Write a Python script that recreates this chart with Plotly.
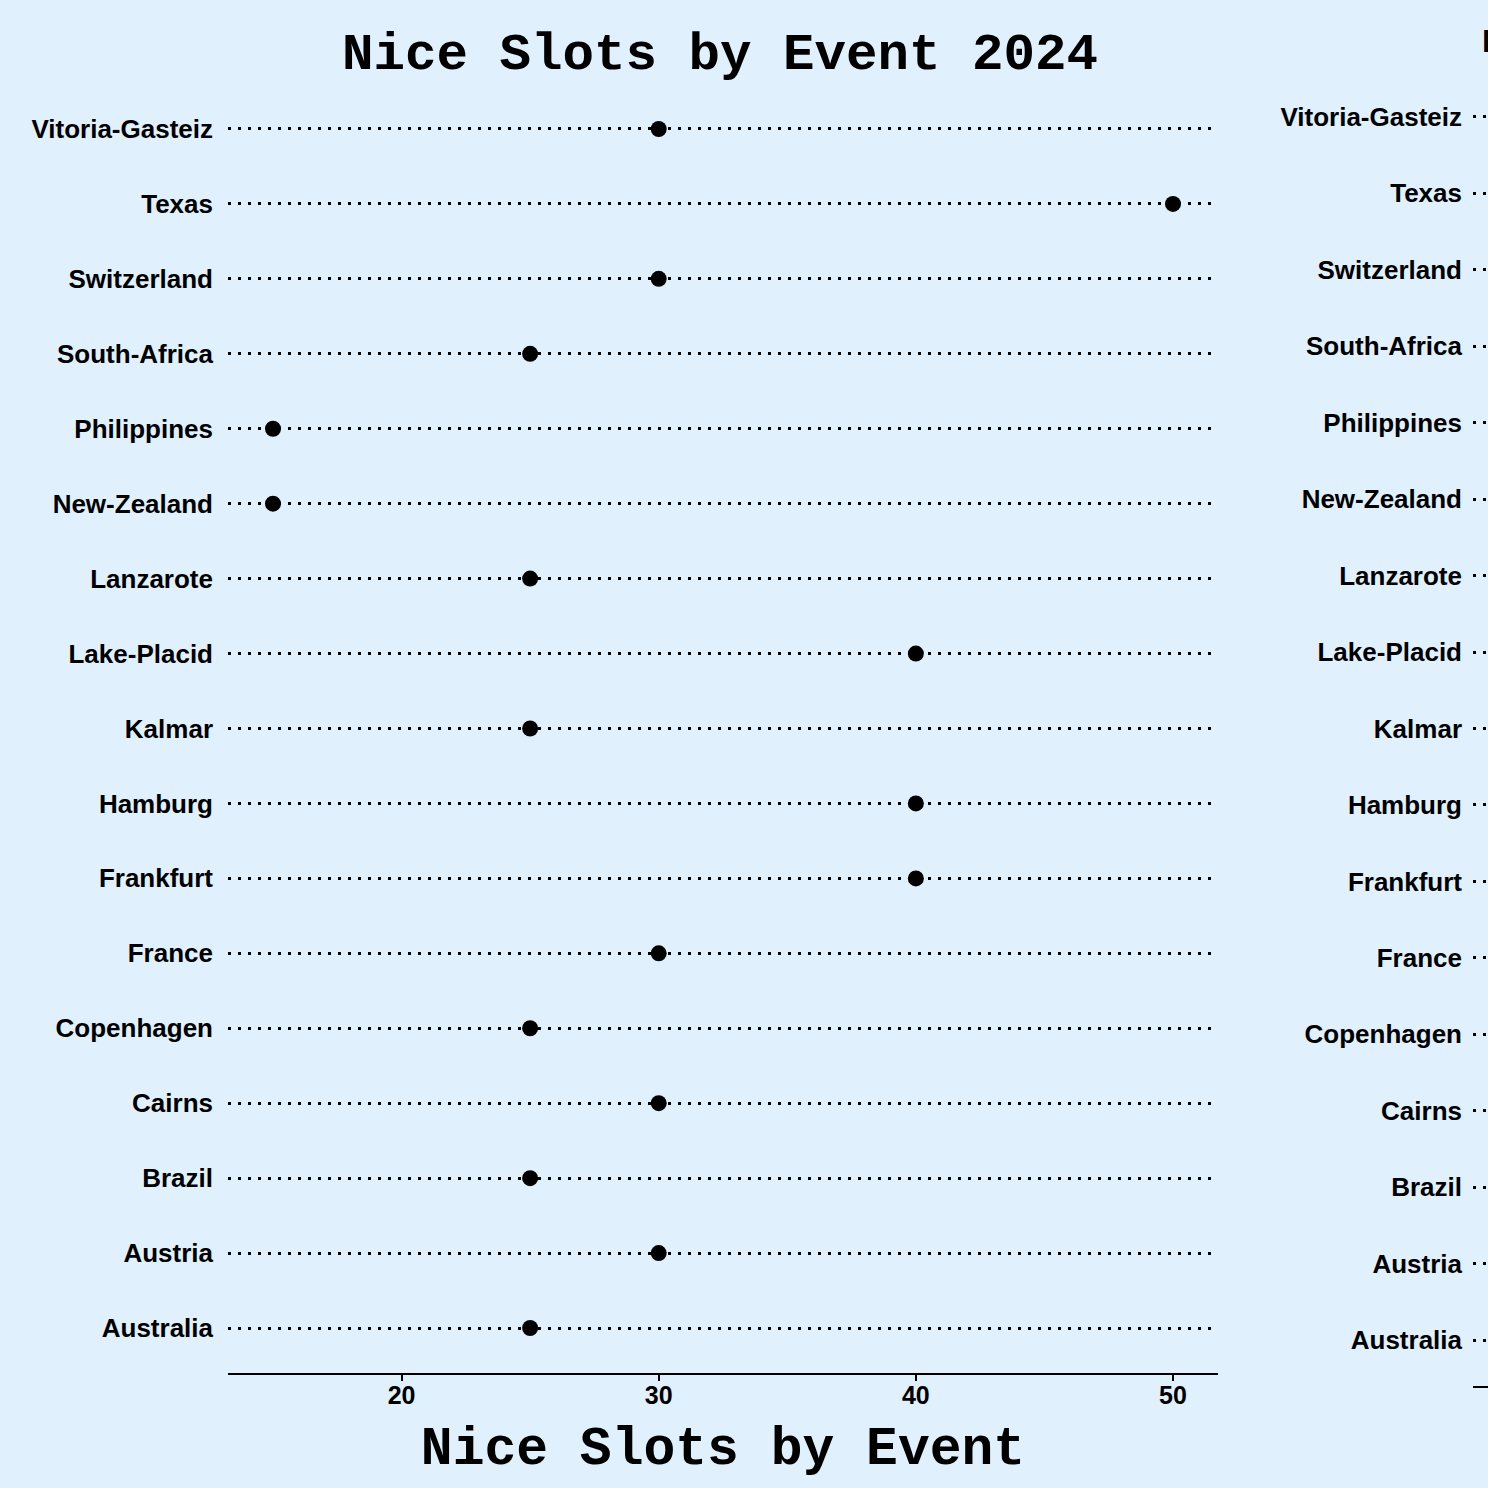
import plotly.graph_objects as go

# events, bottom to top as drawn on the y axis
events = ["Australia", "Austria", "Brazil", "Cairns", "Copenhagen", "France",
          "Frankfurt", "Hamburg", "Kalmar", "Lake-Placid", "Lanzarote",
          "New-Zealand", "Philippines", "South-Africa", "Switzerland", "Texas",
          "Vitoria-Gasteiz"]
slots_2024 = [25, 30, 25, 30, 25, 30, 40, 40, 25, 40, 25, 15, 15, 25, 30, 50, 30]

title_2024 = "Nice Slots by Event 2024"
x_title = "Nice Slots by Event"
title_next = "Nice Slots by Event"

W = H = 1488
bg = "#e0f0fd"
label_font = dict(family="Liberation Sans", size=26, color="black", weight="bold")
tick_font = dict(family="Liberation Sans", size=25, color="black", weight="bold")
mono = "Liberation Mono"

# matplotlib-like 5% margins on the x data range
lo, hi = min(slots_2024), max(slots_2024)
pad = (hi - lo) * 0.05
x_range = [lo - pad, hi + pad]

def px_x(a, b):
    return [a / W, b / W]

def px_y(top, bottom):
    return [1 - bottom / H, 1 - top / H]

fig = go.Figure()

fig.add_trace(go.Scatter(
    x=slots_2024, y=events, mode="markers",
    marker=dict(color="black", size=16),
    xaxis="x", yaxis="y", showlegend=False, hoverinfo="x+y",
))

# second panel (cut off by the page edge): only its labels and rows show
fig.add_trace(go.Scatter(
    x=[None] * len(events), y=events, mode="markers",
    marker=dict(color="black", size=16),
    xaxis="x2", yaxis="y2", showlegend=False, hoverinfo="skip",
))

fig.update_layout(
    width=W, height=H,
    margin=dict(l=0, r=0, t=0, b=0),
    paper_bgcolor=bg, plot_bgcolor=bg,
    showlegend=False,
    title=dict(text=title_2024, x=720 / W, xanchor="center",
               y=1 - 51 / H, yanchor="middle",
               font=dict(family=mono, size=52.5, color="black", weight="bold")),
    xaxis=dict(domain=px_x(228, 1218), anchor="y", range=x_range,
               showgrid=False, zeroline=False,
               showline=True, linecolor="black", linewidth=2,
               ticks="outside", ticklen=6, tickwidth=2, tickcolor="black",
               dtick=10, tickfont=tick_font, ticklabelstandoff=-7,
               title=dict(text=x_title, standoff=19,
                          font=dict(family=mono, size=53, color="black",
                                    weight="bold"))),
    yaxis=dict(domain=px_y(84, 1373), anchor="x", type="category",
               categoryorder="array", categoryarray=events,
               range=[-0.6, len(events) - 0.4],
               showline=False, zeroline=False, ticks="",
               showgrid=True, gridcolor="black", gridwidth=3,
               griddash="3px,7px", tickfont=label_font,
               ticklabelstandoff=14),
    xaxis2=dict(domain=px_x(1473, 1488), anchor="y2",
                range=[x_range[0], x_range[0] + 0.6],
                showgrid=False, zeroline=False,
                showline=True, linecolor="black", linewidth=2,
                ticks="", showticklabels=False),
    yaxis2=dict(domain=px_y(71, 1386), anchor="x2", type="category",
                categoryorder="array", categoryarray=events,
                range=[-0.6, len(events) - 0.4],
                showline=False, zeroline=False, ticks="",
                showgrid=True, gridcolor="black", gridwidth=3,
                griddash="3px,7px", tickfont=label_font,
                ticklabelstandoff=10),
)

fig.add_annotation(text=title_next, xref="paper", yref="paper",
                   x=1480 / W, y=1 - 44 / H, xanchor="left", yanchor="middle",
                   showarrow=False,
                   font=dict(family=mono, size=33, color="black", weight="bold"))

# drop the browser's default body margin so the figure fills the window
fig.write_html("out.html", config={"displayModeBar": False},
               post_script="document.body.style.margin='0';")
